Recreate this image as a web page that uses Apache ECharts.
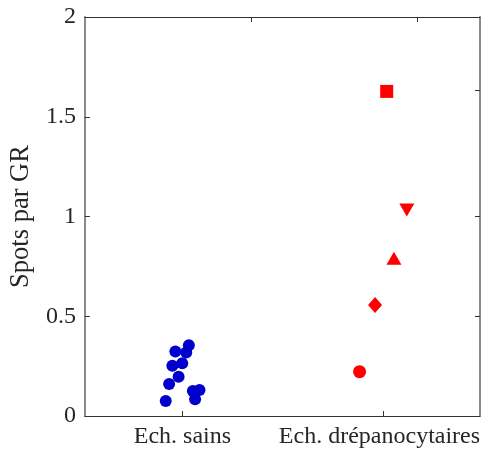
<!DOCTYPE html>
<html><head><meta charset="utf-8">
<script src="https://cdn.jsdelivr.net/npm/echarts@6/dist/echarts.min.js"></script>
<style>html,body{margin:0;padding:0;background:#fff}#c{width:483px;height:452px}</style>
</head><body><div id="c"></div>
<script>
const categories = ['Ech. sains', 'Ech. drépanocytaires'];
const categoryPositions = [1, 2];
const yTicks = [0, 0.5, 1, 1.5, 2];
const topTickValues = [1.343, 2.169];
const rightTickValues = [0.5, 1, 1.635];
const sainsX = [0.917, 0.934, 0.981, 0.950, 0.999, 0.965, 1.019, 1.032, 1.052, 1.085, 1.063];
const sainsY = [0.075, 0.160, 0.197, 0.252, 0.264, 0.323, 0.318, 0.355, 0.125, 0.130, 0.084];
const drepX = [1.881, 1.958, 2.052, 2.116, 2.016];
const drepY = [0.222, 0.557, 0.791, 1.033, 1.627];

const font = '"Liberation Serif", "Times New Roman", serif';
const txt = '#262626';
const redMarkers = [
  {symbol: 'circle', size: 13, rotate: 0},
  {symbol: 'diamond', size: [14, 16], rotate: 0},
  {symbol: 'triangle', size: [15, 13], rotate: 0},
  {symbol: 'triangle', size: [15, 13], rotate: 180},
  {symbol: 'rect', size: 13, rotate: 0}
];

const series = [{
  type: 'scatter', xAxisIndex: 0, yAxisIndex: 0,
  data: sainsX.map((x, i) => [x, sainsY[i]]),
  symbol: 'circle', symbolSize: 12,
  itemStyle: {color: '#0000cc', opacity: 1},
  z: 3
}];
drepX.forEach((x, i) => {
  const m = redMarkers[i];
  series.push({
    type: 'scatter', xAxisIndex: 0, yAxisIndex: 0,
    data: [[x, drepY[i]]],
    symbol: m.symbol, symbolSize: m.size, symbolRotate: m.rotate,
    itemStyle: {color: '#ff0000', opacity: 1},
    z: 3
  });
});

const chart = echarts.init(document.getElementById('c'), null, {renderer: 'canvas'});
chart.setOption({
  animation: false,
  backgroundColor: '#ffffff',
  textStyle: {fontFamily: font},
  grid: {left: 81, right: 3, top: 17, bottom: 36, containLabel: false},
  xAxis: [{
    type: 'value', position: 'bottom', min: 0.515, max: 2.48,
    axisLine: {show: true, onZero: false, lineStyle: {color: '#333', width: 1}},
    axisTick: {show: true, inside: true, length: 5, customValues: categoryPositions, lineStyle: {color: '#333'}},
    axisLabel: {
      show: true, margin: 9, customValues: categoryPositions,
      fontFamily: font, fontSize: 24, color: txt,
      formatter: v => {
        const i = categoryPositions.indexOf(Math.round(v));
        return i === 1 ? '{r|' + categories[i] + '}' : categories[i];
      },
      rich: {r: {fontFamily: font, fontSize: 24, color: txt, padding: [0, 8, 0, 0]}}
    },
    splitLine: {show: false}
  }, {
    type: 'value', position: 'top', min: 0.515, max: 2.48,
    axisLine: {show: true, onZero: false, lineStyle: {color: '#333', width: 1}},
    axisTick: {show: true, inside: true, length: 5, customValues: topTickValues, lineStyle: {color: '#333'}},
    axisLabel: {show: false},
    splitLine: {show: false}
  }],
  yAxis: [{
    type: 'value', position: 'left', min: 0, max: 2, interval: 0.5,
    name: 'Spots par GR', nameLocation: 'middle', nameGap: 47,
    nameTextStyle: {fontFamily: font, fontSize: 26.5, color: txt},
    axisLine: {show: true, onZero: false, lineStyle: {color: '#8a8a8a', width: 2}},
    axisTick: {show: true, inside: true, length: 5, lineStyle: {color: '#333'}},
    axisLabel: {margin: 9, fontFamily: font, fontSize: 24, color: txt,
      formatter: v => String(yTicks.find(t => Math.abs(t - v) < 1e-9) ?? v)},
    splitLine: {show: false}
  }, {
    type: 'value', position: 'right', min: 0, max: 2,
    axisLine: {show: true, onZero: false, lineStyle: {color: '#8a8a8a', width: 2}},
    axisTick: {show: true, inside: true, length: 5, customValues: rightTickValues, lineStyle: {color: '#333'}},
    axisLabel: {show: false},
    splitLine: {show: false}
  }],
  series: series
});
</script>
</body></html>
